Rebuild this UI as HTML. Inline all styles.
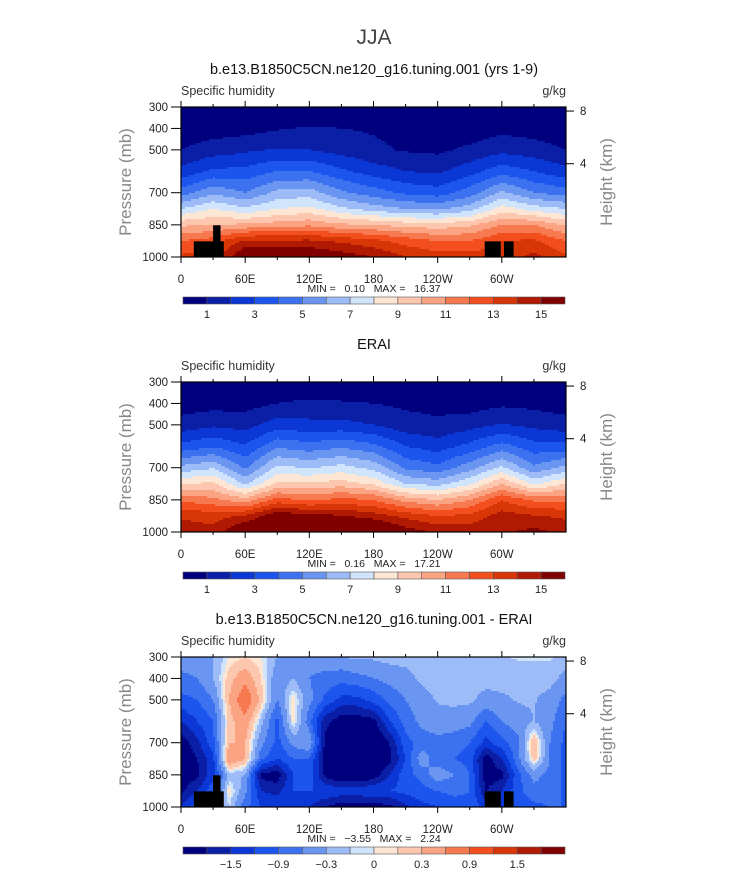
<!DOCTYPE html>
<html><head><meta charset="utf-8">
<style>
body{margin:0;background:#fff;}
svg text{font-family:"Liberation Sans",sans-serif;}
</style></head>
<body>
<svg id="fig" width="733" height="872" viewBox="0 0 733 872" xmlns="http://www.w3.org/2000/svg">
<rect width="733" height="872" fill="#fff"/>
<text x="374" y="44" text-anchor="middle" font-size="21" fill="#444" font-weight="300">JJA</text>
</svg>
<script>
// ===== data =====
const lonsA = [0,30,60,90,120,150,180,210,240,270,300,330,360];
const presA = [300,400,500,600,700,775,850,925,1000];
const modelQ = [
 [0.2,0.2,0.2,0.2,0.2,0.2,0.2,0.2,0.2,0.2,0.2,0.2,0.2],
 [0.4,0.5,0.6,0.9,1.1,1.0,0.9,0.7,0.6,0.4,0.7,0.6,0.4],
 [1.0,1.5,1.8,2.1,2.0,1.6,1.2,0.9,0.8,1.2,1.7,1.4,1.0],
 [2.3,3.2,3.3,4.0,4.0,3.2,2.5,2.0,1.8,2.6,3.6,3.0,2.3],
 [4.5,5.8,5.0,6.3,6.5,5.2,4.5,3.8,3.5,4.5,6.2,5.0,4.5],
 [7.0,8.0,7.2,8.0,8.3,7.2,6.5,6.0,5.8,6.5,8.5,7.5,7.0],
 [9.8,10,10.2,10.5,10.8,10.2,10,9.6,9.4,9.8,11,11,9.8],
 [12,12.5,14.2,14.2,14.2,13.8,13.3,12.6,12,12,13,13.2,12],
 [13.2,13.5,16.2,16.1,16.2,15.6,15,14,13.5,13.5,13.5,14.3,13.2]
];
const eraiQ = [
 [0.2,0.2,0.2,0.2,0.2,0.2,0.2,0.2,0.2,0.2,0.2,0.2,0.2],
 [0.5,0.6,0.6,1.0,1.2,1.1,1.0,0.8,0.7,0.5,0.8,0.7,0.5],
 [1.4,1.8,1.6,2.5,2.3,2.3,2.0,1.4,1.2,1.6,2.1,1.7,1.4],
 [3.3,3.9,3.1,4.8,4.4,4.8,4.3,3.0,2.5,3.3,4.4,3.4,3.3],
 [6.3,6.9,4.8,7.3,6.9,7.4,6.7,4.8,4.3,5.6,7.2,5.2,6.3],
 [9.0,9.2,6.8,9.2,9.2,9.5,8.8,7.0,6.6,7.8,10.0,7.8,9.0],
 [11.8,11.3,10.4,12.4,11.8,12.3,12.0,10.6,10.0,11.0,12.9,11.8,11.8],
 [13.8,13.6,14.1,15.8,15.4,15.1,14.5,13.7,13.0,13.3,14.5,14.1,13.8],
 [14.7,14.3,16.5,17.0,17.0,17.2,17.0,15.6,14.8,14.7,14.8,15.3,14.7]
];
const lonsD = [0,15,30,45,60,75,90,105,120,135,150,165,180,195,210,225,240,255,270,285,300,315,330,345,360];
const diffQ = [
 [-0.4,-0.4,-0.3,0.0,0.1,0.0,-0.3,-0.5,-0.5,-0.4,-0.3,-0.25,-0.25,-0.2,-0.2,-0.15,-0.15,-0.12,-0.12,-0.12,-0.12,-0.08,-0.08,-0.08,-0.15],
 [-0.7,-0.6,-0.3,0.2,0.5,0.1,-0.5,-0.3,-0.6,-0.7,-0.8,-0.7,-0.6,-0.5,-0.4,-0.25,-0.2,-0.2,-0.18,-0.2,-0.2,-0.2,-0.2,-0.2,-0.4],
 [-1.0,-0.9,-0.6,0.3,0.9,0.2,-0.6,0.1,-0.5,-1.0,-1.3,-1.3,-1.1,-0.8,-0.6,-0.4,-0.28,-0.25,-0.25,-0.4,-0.35,-0.28,-0.28,-0.4,-0.7],
 [-1.5,-1.2,-0.9,0.2,0.5,-0.2,-1.0,0.1,-0.8,-1.7,-2.0,-2.0,-1.9,-1.2,-0.8,-0.5,-0.4,-0.4,-0.5,-0.9,-0.6,-0.4,-0.3,-0.5,-0.9],
 [-2.0,-1.6,-1.0,0.3,0.3,-0.5,-1.0,-0.5,-0.3,-1.9,-2.3,-2.3,-2.2,-1.8,-1.0,-0.8,-0.7,-0.8,-0.9,-1.3,-1.0,-0.7,0.3,-0.6,-1.0],
 [-2.2,-1.8,-1.3,0.6,0.3,-0.8,-1.2,-0.9,-0.9,-2.0,-2.4,-2.4,-2.3,-1.9,-1.2,-0.4,-0.8,-0.9,-1.0,-2.0,-1.5,-0.7,0.2,-0.6,-1.0],
 [-2.0,-1.9,-1.3,-0.2,-0.3,-1.9,-2.0,-1.2,-1.0,-1.9,-2.2,-2.2,-2.0,-1.5,-1.0,-0.8,-0.4,-0.6,-0.9,-2.0,-1.9,-1.0,-0.5,-0.7,-1.0],
 [-1.9,-1.5,-1.0,0.1,-0.5,-1.5,-1.6,-1.2,-1.2,-1.2,-1.3,-1.3,-1.2,-1.2,-1.1,-1.0,-0.9,-0.8,-0.9,-1.8,-1.5,-1.0,-0.7,-0.7,-1.0],
 [-1.5,-1.0,-0.7,-0.1,-0.8,-1.2,-1.3,-1.3,-1.5,-1.8,-2.0,-2.0,-2.0,-1.9,-1.6,-1.3,-1.2,-1.1,-1.0,-1.3,-1.3,-1.1,-1.0,-0.9,-0.9]
];
const levelsQ = [1,2,3,4,5,6,7,8,9,10,11,12,13,14,15];
const levelsD = [-1.8,-1.5,-1.2,-0.9,-0.6,-0.3,-0.1,0,0.1,0.3,0.6,0.9,1.2,1.5,1.8];
const labelsQ = ["1","3","5","7","9","11","13","15"];
const labelsD = ["\u22121.5","\u22120.9","\u22120.3","0","0.3","0.9","1.5"];
const lonTicks = [0,60,120,180,240,300];
const lonTickLabels = ["0","60E","120E","180","120W","60W"];
const presTicks = [300,400,500,700,850,1000];
const heightTicks = [8,4];
const minmax = [["0.10","16.37"],["0.16","17.21"],["\u22123.55","2.24"]];
const titles = ["b.e13.B1850C5CN.ne120_g16.tuning.001 (yrs 1-9)","ERAI","b.e13.B1850C5CN.ne120_g16.tuning.001 - ERAI"];
const terrain = [[12,40,927],[30,37,852],[284,299,927],[302,311,927]];
const colors = ["#00007f","#0a1fa6","#0a37d6","#1b55ee","#3c72f0","#6a96f2","#9dbcf7","#d0e4fb","#fde6d4","#fcc7ae","#fba483","#f7794f","#f24e1e","#d93608","#b01a03","#800000"];

// ===== drawing =====
const NS="http://www.w3.org/2000/svg";
const svg=document.getElementById('fig');
function mk(tag,attrs,parent){const e=document.createElementNS(NS,tag);for(const k in attrs)e.setAttribute(k,attrs[k]);(parent||svg).appendChild(e);return e;}
const X0=181,X1=566,PH=150;
function xs(lon){return X0+(lon/360)*(X1-X0);}
function ys(top,p){return top+(p-300)/700*PH;}
function interp(lons,pres,grid,lon,p){
  let i=0;while(i<lons.length-2&&lon>lons[i+1])i++;
  let j=0;while(j<pres.length-2&&p>pres[j+1])j++;
  let tx=(lon-lons[i])/(lons[i+1]-lons[i]),ty=(p-pres[j])/(pres[j+1]-pres[j]);
  tx=Math.max(0,Math.min(1,tx));ty=Math.max(0,Math.min(1,ty));
  const a=grid[j][i],b=grid[j][i+1],c=grid[j+1][i],d=grid[j+1][i+1];
  return a*(1-tx)*(1-ty)+b*tx*(1-ty)+c*(1-tx)*ty+d*tx*ty;
}
function colorFor(v,levels){let k=0;while(k<levels.length&&v>=levels[k])k++;return colors[k];}

function panel(idx,top,lons,grid,levels,labels,hasTerrain,labelOffset){
  const g=mk('g',{});
  
  
  const t=mk('text',{x:374,y:top-33,'text-anchor':'middle','font-size':14.5,fill:'#111'},g);
  t.textContent=titles[idx];
  
  
  const s=mk('text',{x:181,y:top-12,'font-size':12.5,fill:'#333'},g);s.textContent='Specific humidity';
  
  
  const u=mk('text',{x:566,y:top-12,'text-anchor':'end','font-size':12.5,fill:'#333'},g);u.textContent='g/kg';
  
  
  const field=mk('g',{'shape-rendering':'crispEdges'},g);
  
  
  const step=2,W=X1-X0;
  for(let py=0;py<PH;py+=step){
    const p=300+(py+step/2)/PH*700;
    const cols=[];
    for(let px=0;px<W;px+=step){const lon=(px+step/2)/W*360;cols.push(colorFor(interp(lons,presA,grid,lon,p),levels));}
    let start=0;
    for(let k=1;k<=cols.length;k++){
      if(k===cols.length||cols[k]!==cols[start]){
        const x0=start*step,x1=Math.min(k*step,W);
        const r=mk('rect',{x:X0+x0,y:top+py,width:x1-x0,height:step,fill:cols[start]},field);
        
        
        start=k;
      }
    }
  }
  if(hasTerrain){
    terrain.forEach(b=>{const r=mk('rect',{x:xs(b[0]),y:ys(top,b[2]),width:xs(b[1])-xs(b[0]),height:ys(top,1000)-ys(top,b[2]),fill:'#000'},g);
      
      });
  }
  const fr=mk('rect',{x:X0,y:top,width:X1-X0,height:PH,fill:'none',stroke:'#000','stroke-width':1.2},g);
  
  
  for(let lon=0;lon<360;lon+=30){
    const major=lon%60===0,x=xs(lon),L=major?6:3;
    mk('line',{x1:x,x2:x,y1:top+PH,y2:top+PH+L,stroke:'#000'},g);
    mk('line',{x1:x,x2:x,y1:top,y2:top-L,stroke:'#000'},g);
  }
  lonTicks.forEach((lon,i)=>{const tl=mk('text',{x:xs(lon),y:top+PH+26,'text-anchor':'middle','font-size':11.5,fill:'#222'},g);tl.textContent=lonTickLabels[i];
    
    });
  presTicks.forEach(p=>{const y=ys(top,p);mk('line',{x1:X0-10,x2:X0,y1:y,y2:y,stroke:'#000'},g);
    const tl=mk('text',{x:X0-13,y:y+4,'text-anchor':'end','font-size':11.5,fill:'#222'},g);tl.textContent=p;
    
    });
  heightTicks.forEach(h=>{const p=1000*Math.exp(-h/7);const y=ys(top,p);
    mk('line',{x1:X1,x2:X1+8,y1:y,y2:y,stroke:'#000'},g);
    const tl=mk('text',{x:X1+14,y:y+4,'font-size':11.5,fill:'#222'},g);tl.textContent=h;
    
    });
  const yl=mk('text',{x:0,y:0,transform:`translate(131 ${top+75}) rotate(-90)`,'text-anchor':'middle','font-size':17,fill:'#888'},g);yl.textContent='Pressure (mb)';
  
  
  const yr=mk('text',{x:0,y:0,transform:`translate(612 ${top+75}) rotate(-90)`,'text-anchor':'middle','font-size':17,fill:'#888'},g);yr.textContent='Height (km)';
  
  
  const mm=mk('text',{x:374,y:top+185,'text-anchor':'middle','font-size':10.5,fill:'#222',style:'white-space:pre'},g);
  mm.textContent='MIN =   '+minmax[idx][0]+'   MAX =   '+minmax[idx][1];
  
  
  const cb=mk('g',{},g);
  
  
  const cx0=183,cx1=565,bw=(cx1-cx0)/16,cy=top+190;
  colors.forEach((c,i)=>{const r=mk('rect',{x:cx0+i*bw,y:cy,width:bw,height:7,fill:c,stroke:'#555','stroke-width':0.6},cb);
    
    });
  labels.forEach((l,i)=>{const tl=mk('text',{x:cx0+(2*i+labelOffset)*bw,y:cy+21,'text-anchor':'middle','font-size':11,fill:'#222'},cb);tl.textContent=l;
    
    });
}
panel(0,107,lonsA,modelQ,levelsQ,labelsQ,true,1);
panel(1,382,lonsA,eraiQ,levelsQ,labelsQ,false,1);
panel(2,657,lonsD,diffQ,levelsD,labelsD,true,2);
</script>
</body></html>
